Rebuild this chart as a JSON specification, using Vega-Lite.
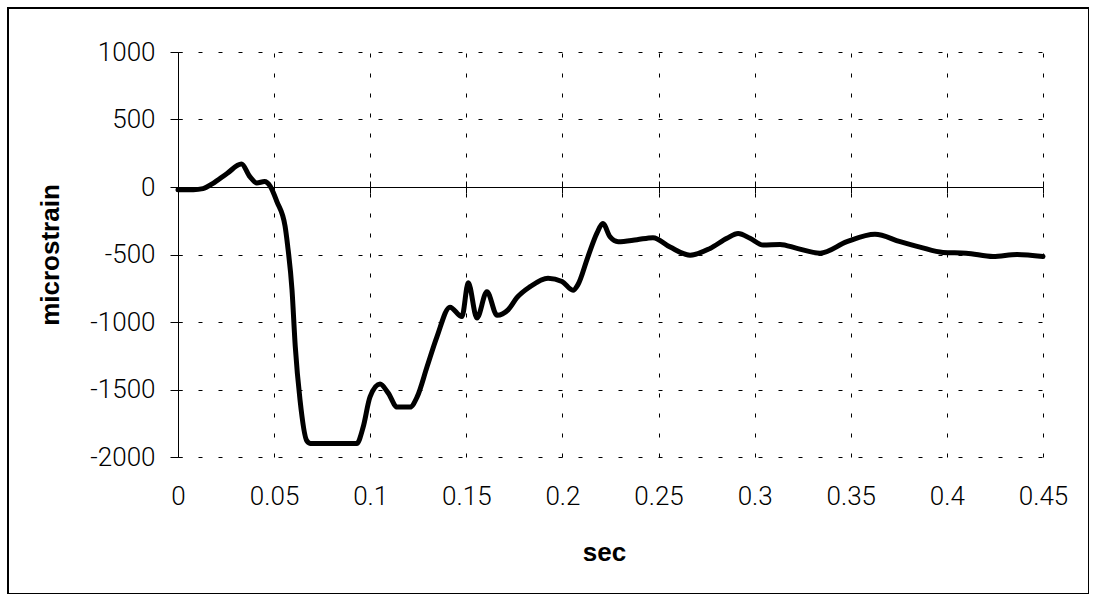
{
  "$schema": "https://vega.github.io/schema/vega-lite/v6.json",
  "width": 1081,
  "height": 586,
  "padding": {"left": 8, "top": 8, "right": 0, "bottom": 0},
  "autosize": {"type": "none"},
  "background": "white",
  "config": {
    "view": {"stroke": "black", "strokeWidth": 2},
    "axis": {
      "labelFont": "Roboto",
      "labelFontWeight": 300,
      "labelFontSize": 26,
      "labelColor": "black",
      "titleFont": "Liberation Sans",
      "titleFontWeight": "bold",
      "titleFontSize": 26,
      "titleColor": "black",
      "domainColor": "black",
      "tickColor": "black",
      "gridColor": "black",
      "gridDash": [4, 16],
      "gridWidth": 1,
      "gridOpacity": 1
    }
  },
  "data": {
    "values": [
      {"sec": 0, "microstrain": -20}, {"sec": 0.008, "microstrain": -20}, {"sec": 0.013, "microstrain": -12},
      {"sec": 0.018, "microstrain": 25}, {"sec": 0.0255, "microstrain": 100}, {"sec": 0.033, "microstrain": 170},
      {"sec": 0.0375, "microstrain": 75}, {"sec": 0.041, "microstrain": 30}, {"sec": 0.045, "microstrain": 40},
      {"sec": 0.048, "microstrain": 5}, {"sec": 0.0515, "microstrain": -110}, {"sec": 0.0557, "microstrain": -290},
      {"sec": 0.057, "microstrain": -430}, {"sec": 0.0593, "microstrain": -760}, {"sec": 0.061, "microstrain": -1180},
      {"sec": 0.0635, "microstrain": -1580}, {"sec": 0.067, "microstrain": -1880}, {"sec": 0.069, "microstrain": -1900},
      {"sec": 0.093, "microstrain": -1900}, {"sec": 0.0963, "microstrain": -1780}, {"sec": 0.0999, "microstrain": -1555},
      {"sec": 0.1051, "microstrain": -1460}, {"sec": 0.1093, "microstrain": -1525}, {"sec": 0.114, "microstrain": -1630},
      {"sec": 0.1207, "microstrain": -1630}, {"sec": 0.1244, "microstrain": -1555}, {"sec": 0.1296, "microstrain": -1330},
      {"sec": 0.1347, "microstrain": -1110}, {"sec": 0.1415, "microstrain": -890}, {"sec": 0.1477, "microstrain": -960},
      {"sec": 0.151, "microstrain": -710}, {"sec": 0.1555, "microstrain": -970}, {"sec": 0.1607, "microstrain": -775},
      {"sec": 0.166, "microstrain": -950}, {"sec": 0.1717, "microstrain": -910}, {"sec": 0.1763, "microstrain": -820},
      {"sec": 0.183, "microstrain": -740}, {"sec": 0.1925, "microstrain": -675}, {"sec": 0.1998, "microstrain": -700},
      {"sec": 0.2055, "microstrain": -765}, {"sec": 0.208, "microstrain": -725}, {"sec": 0.2133, "microstrain": -515},
      {"sec": 0.218, "microstrain": -340}, {"sec": 0.221, "microstrain": -270}, {"sec": 0.2248, "microstrain": -370},
      {"sec": 0.229, "microstrain": -405}, {"sec": 0.2388, "microstrain": -390}, {"sec": 0.2471, "microstrain": -375},
      {"sec": 0.256, "microstrain": -445}, {"sec": 0.2664, "microstrain": -505}, {"sec": 0.2768, "microstrain": -455},
      {"sec": 0.2856, "microstrain": -380}, {"sec": 0.2914, "microstrain": -345}, {"sec": 0.2976, "microstrain": -380},
      {"sec": 0.3044, "microstrain": -430}, {"sec": 0.3132, "microstrain": -425}, {"sec": 0.322, "microstrain": -455},
      {"sec": 0.334, "microstrain": -490}, {"sec": 0.348, "microstrain": -405}, {"sec": 0.3626, "microstrain": -350},
      {"sec": 0.3757, "microstrain": -405}, {"sec": 0.386, "microstrain": -445}, {"sec": 0.398, "microstrain": -485},
      {"sec": 0.41, "microstrain": -490}, {"sec": 0.424, "microstrain": -515}, {"sec": 0.4365, "microstrain": -500},
      {"sec": 0.45, "microstrain": -515}
    ]
  },
  "layer": [
    {
      "mark": {"type": "line", "strokeOpacity": 0},
      "encoding": {
        "x": {
          "field": "sec", "type": "quantitative",
          "scale": {"domain": [0, 0.45], "range": [170, 1035], "nice": false, "zero": false},
          "axis": {
            "orient": "bottom", "offset": -137, "domain": false, "ticks": true, "tickSize": -405, "tickWidth": 1,
            "tickDash": [4, 16], "grid": false, "labels": false, "title": null,
            "values": [0.05, 0.1, 0.15, 0.2, 0.25, 0.3, 0.35, 0.4, 0.45]
          }
        },
        "y": {
          "field": "microstrain", "type": "quantitative",
          "scale": {"domain": [-2000, 1000], "range": [449, 44], "nice": false, "zero": false},
          "axis": {
            "orient": "left", "offset": -170, "domain": false, "ticks": false,
            "grid": true, "labels": false, "title": null, "values": [-2000, -1500, -1000, -500, 500, 1000]
          }
        }
      }
    },
    {
      "mark": {"type": "line", "strokeOpacity": 0},
      "encoding": {
        "x": {
          "field": "sec", "type": "quantitative",
          "scale": {"domain": [0, 0.45], "range": [170, 1035], "nice": false, "zero": false},
          "axis": {
            "orient": "top", "offset": -179, "domain": true, "domainWidth": 1, "ticks": true, "tickSize": 6, "tickWidth": 1,
            "grid": false, "labels": false, "title": null,
            "values": [0, 0.05, 0.1, 0.15, 0.2, 0.25, 0.3, 0.35, 0.4, 0.45]
          }
        },
        "y": {
          "field": "microstrain", "type": "quantitative",
          "scale": {"domain": [-2000, 1000], "range": [449, 44], "nice": false, "zero": false},
          "axis": {
            "orient": "right", "offset": -911, "domain": false, "ticks": true, "tickSize": 4, "tickWidth": 1,
            "grid": false, "labels": false, "title": null, "values": [-2000, -1500, -1000, -500, 0, 500, 1000]
          }
        }
      }
    },
    {
      "mark": {"type": "line", "strokeOpacity": 0},
      "encoding": {
        "x": {
          "field": "sec", "type": "quantitative",
          "scale": {"domain": [0, 0.45], "range": [170, 1035], "nice": false, "zero": false},
          "axis": {
            "orient": "bottom", "offset": -407, "domain": false, "ticks": true, "tickSize": 6, "tickWidth": 1,
            "grid": false, "labels": false, "title": null,
            "values": [0, 0.05, 0.1, 0.15, 0.2, 0.25, 0.3, 0.35, 0.4, 0.45]
          }
        },
        "y": {
          "field": "microstrain", "type": "quantitative",
          "scale": {"domain": [-2000, 1000], "range": [449, 44], "nice": false, "zero": false},
          "axis": null
        }
      }
    },
    {
      "mark": {"type": "line", "color": "black", "strokeWidth": 5, "interpolate": "monotone", "strokeJoin": "round", "strokeCap": "round"},
      "encoding": {
        "x": {
          "field": "sec", "type": "quantitative",
          "scale": {"domain": [0, 0.45], "range": [170, 1035], "nice": false, "zero": false},
          "axis": {
            "orient": "bottom", "offset": -137, "domain": false, "ticks": false, "grid": false,
            "values": [0, 0.05, 0.1, 0.15, 0.2, 0.25, 0.3, 0.35, 0.4, 0.45],
            "labelExpr": "'' + datum.value", "labelPadding": 26, "labelFlush": false,
            "title": "sec", "titlePadding": 30, "titleX": 596
          }
        },
        "y": {
          "field": "microstrain", "type": "quantitative",
          "scale": {"domain": [-2000, 1000], "range": [449, 44], "nice": false, "zero": false},
          "axis": {
            "orient": "left", "offset": -170, "domain": true, "domainWidth": 1, "ticks": true, "tickSize": 8, "tickWidth": 1,
            "grid": false, "values": [-2000, -1500, -1000, -500, 0, 500, 1000],
            "labelExpr": "'' + datum.value", "labelPadding": 15, "labelFlush": false,
            "title": "microstrain", "titlePadding": 26
          }
        }
      }
    }
  ],
  "resolve": {"axis": {"x": "independent", "y": "independent"}}
}
